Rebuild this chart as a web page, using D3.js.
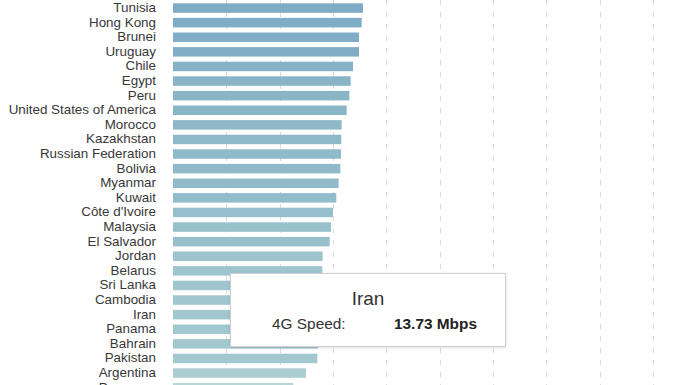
<!DOCTYPE html>
<html>
<head>
<meta charset="utf-8">
<script src="https://cdnjs.cloudflare.com/ajax/libs/d3/7.8.5/d3.min.js"></script>
<style>
  html, body { margin: 0; padding: 0; background: #fff; overflow: hidden; }
  svg { display: block; font-family: "Liberation Sans", Arial, sans-serif; }
</style>
</head>
<body>
<svg id="chart" width="696" height="385"></svg>
<script>
const countries = ["Tunisia", "Hong Kong", "Brunei", "Uruguay", "Chile", "Egypt", "Peru",
  "United States of America", "Morocco", "Kazakhstan", "Russian Federation", "Bolivia",
  "Myanmar", "Kuwait", "Côte d'Ivoire", "Malaysia", "El Salvador", "Jordan", "Belarus",
  "Sri Lanka", "Cambodia", "Iran", "Panama", "Bahrain", "Pakistan", "Argentina", "Paraguay"];
const speeds = [17.81, 17.69, 17.44, 17.44, 16.88, 16.66, 16.53, 16.28, 15.81, 15.78, 15.75, 15.69,
  15.53, 15.31, 15.00, 14.81, 14.69, 14.03, 14.00, 13.90, 13.80, 13.73, 13.65, 13.58, 13.53, 12.47, 11.28];
const gridTicks = [5, 10, 15, 20, 25, 30, 35, 40, 45];
const tooltipCountry = "Iran";
const tooltipLabel = "4G Speed:";
const tooltipUnit = "Mbps";

const svg = d3.select("#chart");
const data = countries.map((c, i) => ({ country: c, value: speeds[i] }));

const rowStep = 14.6;
const startY = 0.75;
const x = d3.scaleLinear().domain([0, 50]).range([173, 173 + 533.3]);
const y = d3.scaleBand().domain(countries)
  .range([startY, startY + countries.length * rowStep])
  .paddingInner(0.35).paddingOuter(0.175);

const color = d3.scaleLinear().domain([12.47, 17.81])
  .range(["#a6cbcf", "#76a7c1"]);

// gridlines
svg.append("g").selectAll("line").data(gridTicks).join("line")
  .attr("x1", d => Math.round(x(d)) + 0.5).attr("x2", d => Math.round(x(d)) + 0.5)
  .attr("y1", 0).attr("y2", 385)
  .attr("stroke", "#dcdcdc").attr("stroke-width", 1)
  .attr("stroke-dasharray", "5,7");

// bars
svg.append("g").selectAll("rect").data(data).join("rect")
  .attr("x", x(0))
  .attr("y", d => y(d.country))
  .attr("width", d => x(d.value) - x(0))
  .attr("height", y.bandwidth())
  .attr("fill", d => color(d.value))
  .attr("fill-opacity", 0.94);

// labels
svg.append("g").selectAll("text").data(data).join("text")
  .attr("x", 156)
  .attr("y", d => y(d.country) + y.bandwidth() / 2)
  .attr("dy", "0.3em")
  .attr("text-anchor", "end")
  .attr("font-size", "13.4px")
  .attr("fill", "#383838")
  .text(d => d.country);

// tooltip
const tip = data.find(d => d.country === tooltipCountry);
const defs = svg.append("defs");
const f = defs.append("filter").attr("id", "sh").attr("x", "-10%").attr("y", "-20%").attr("width", "120%").attr("height", "150%");
f.append("feDropShadow").attr("dx", 0).attr("dy", 1).attr("stdDeviation", 1.5).attr("flood-color", "#000").attr("flood-opacity", 0.12);
const tg = svg.append("g").attr("transform", "translate(230,273)");
tg.append("rect").attr("x", 0.5).attr("y", 0.5).attr("width", 275).attr("height", 73)
  .attr("fill", "#fff").attr("stroke", "#cfcfcf").attr("filter", "url(#sh)");
tg.append("text").attr("x", 138).attr("y", 32).attr("text-anchor", "middle")
  .attr("font-size", "19px").attr("fill", "#333").text(tip.country);
tg.append("text").attr("x", 42).attr("y", 56)
  .attr("font-size", "15.4px").attr("fill", "#333").text(tooltipLabel);
tg.append("text").attr("x", 164).attr("y", 56)
  .attr("font-size", "15.4px").attr("font-weight", "bold").attr("fill", "#222")
  .text(tip.value.toFixed(2) + " " + tooltipUnit);
</script>
</body>
</html>
